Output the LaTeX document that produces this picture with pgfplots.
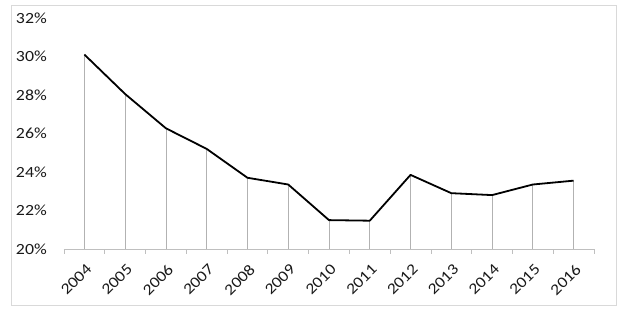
\documentclass[border=0pt]{standalone}
\usepackage{pgfplots}
\pgfplotsset{compat=1.18}
\usepackage{fontspec}
\setmainfont{Carlito}[FakeStretch=1.15]
\begin{document}
\begin{tikzpicture}[x=1pt,y=1pt]
\fill[white] (0,0) rectangle (625,312);
\draw[black!15, line width=1pt] (11,6) rectangle (616,306);
\begin{axis}[
  at={(64pt,63pt)}, anchor=south west,
  scale only axis, width=530pt, height=231pt,
  xmin=-0.5, xmax=12.5, ymin=20, ymax=32,
  axis lines*=left,
  x axis line style={draw=black!25, line width=0.8pt},
  y axis line style={draw=none},
  ytick={20,22,...,32},
  ytick style={draw=none},
  yticklabel={\pgfmathprintnumber[fixed,precision=0]{\tick}\%},
  yticklabel style={anchor=east, inner sep=0pt, xshift=-17pt},
  xtick={0,...,12},
  xticklabels={2004,2005,2006,2007,2008,2009,2010,2011,2012,2013,2014,2015,2016},
  major x tick style={draw=none},
  major tick length=0pt,
  minor xtick={-0.5,0.5,...,12.5},
  minor x tick style={draw=black!25, line width=0.8pt},
  minor tick length=5pt,
  tick align=outside,
  xticklabel style={anchor=north east, inner sep=0pt, xshift=1pt, yshift=-14pt, rotate=45},
  /pgf/number format/assume math mode=true,
  font=\fontsize{15.5}{17}\selectfont,
  tick label style={font=\fontsize{15.5}{17}\selectfont, text=black!90},
  clip=true,
]
\addplot[ycomb, draw=black!30, line width=0.8pt] coordinates {
(0,30.1) (1,28.05) (2,26.27) (3,25.2) (4,23.7) (5,23.35) (6,21.5) (7,21.47) (8,23.85) (9,22.9) (10,22.8) (11,23.35) (12,23.55)};
\addplot[black, line width=1.8pt, line join=round] coordinates {
(0,30.1) (1,28.05) (2,26.27) (3,25.2) (4,23.7) (5,23.35) (6,21.5) (7,21.47) (8,23.85) (9,22.9) (10,22.8) (11,23.35) (12,23.55)};
\end{axis}
\end{tikzpicture}
\end{document}
